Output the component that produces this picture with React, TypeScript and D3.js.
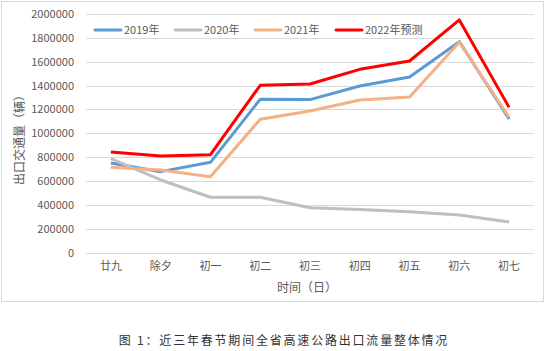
import React, { useRef, useEffect } from "react";
import * as d3 from "d3";

const days = ["廿九", "除夕", "初一", "初二", "初三", "初四", "初五", "初六", "初七"];
const seriesNames = ["2019年", "2020年", "2021年", "2022年预测"];
const colors = ["#5B9BD5", "#BFBFBF", "#F4B183", "#FF0000"];
const v2019 = [750000, 678000, 756000, 1285000, 1282000, 1396000, 1472000, 1768000, 1120000];
const v2020 = [787000, 608000, 463000, 463000, 376000, 361000, 342000, 314000, 256000];
const v2021 = [714000, 692000, 636000, 1117000, 1187000, 1279000, 1304000, 1763000, 1134000];
const v2022 = [843000, 809000, 820000, 1402000, 1413000, 1536000, 1606000, 1950000, 1217000];
const yTicks = [0, 200000, 400000, 600000, 800000, 1000000, 1200000, 1400000, 1600000, 1800000, 2000000];

const font = "'Noto Sans CJK SC', 'Noto Sans', sans-serif";

const Chart = () => {
  const ref = useRef<SVGSVGElement>(null);

  useEffect(() => {
    const svg = d3.select(ref.current);
    svg.selectAll("*").remove();

    const left = 86, right = 534, top = 14, bottom = 252.5;
    const x = d3.scaleBand().domain(days).range([left, right]);
    const y = d3.scaleLinear().domain([0, 2000000]).range([bottom, top]);

    svg.append("rect").attr("width", 550).attr("height", 351).attr("fill", "#fff");
    svg.append("rect")
      .attr("x", 1.5).attr("y", 1.5).attr("width", 542).attr("height", 300)
      .attr("fill", "none").attr("stroke", "#d9d9d9");

    // grid
    svg.append("g").selectAll("line").data(yTicks).enter().append("line")
      .attr("x1", left).attr("x2", right)
      .attr("y1", (d) => Math.round(y(d)) + 0.5).attr("y2", (d) => Math.round(y(d)) + 0.5)
      .attr("stroke", "#d9d9d9").attr("stroke-width", 1);

    const axY = svg.append("g").attr("transform", `translate(${left},0)`)
      .call(d3.axisLeft(y).tickValues(yTicks).tickSize(0).tickPadding(12).tickFormat((d) => String(d)));
    axY.select(".domain").remove();
    axY.selectAll("text").attr("fill", "#595959").style("font-family", font).style("font-size", "11px");

    const axX = svg.append("g").attr("transform", `translate(0,${bottom})`)
      .call(d3.axisBottom(x).tickSize(0).tickPadding(10));
    axX.select(".domain").remove();
    axX.selectAll("text").attr("fill", "#595959").style("font-family", font).style("font-size", "11px");

    const all = [v2019, v2020, v2021, v2022];
    const line = d3.line<number>()
      .x((_, i) => (x(days[i]) as number) + x.bandwidth() / 2)
      .y((d) => y(d));

    all.forEach((vals, i) => {
      svg.append("path").datum(vals)
        .attr("d", line)
        .attr("fill", "none")
        .attr("stroke", colors[i])
        .attr("stroke-width", 3)
        .attr("stroke-linejoin", "round");
    });

    // legend
    const legendX = [95, 175, 255, 336];
    seriesNames.forEach((name, i) => {
      const g = svg.append("g").attr("transform", `translate(${legendX[i]},30)`);
      g.append("line").attr("x1", 0).attr("x2", 26).attr("y1", 0).attr("y2", 0)
        .attr("stroke", colors[i]).attr("stroke-width", 3).attr("stroke-linecap", "round");
      g.append("text").attr("x", 29).attr("y", 4).text(name)
        .attr("fill", "#595959").style("font-family", font).style("font-size", "11px");
    });

    // axis titles
    svg.append("text")
      .attr("transform", `translate(24,137) rotate(-90)`)
      .attr("text-anchor", "middle")
      .attr("fill", "#595959").style("font-family", font).style("font-size", "12px")
      .text("出口交通量（辆）");
    svg.append("text")
      .attr("x", 307).attr("y", 292)
      .attr("text-anchor", "middle")
      .attr("fill", "#595959").style("font-family", font).style("font-size", "12px")
      .text("时间（日）");

    svg.append("text")
      .attr("x", 284).attr("y", 345)
      .attr("text-anchor", "middle")
      .attr("fill", "#333").style("font-family", font).style("font-size", "12px")
      .style("letter-spacing", "1.8px")
      .text("图 1：近三年春节期间全省高速公路出口流量整体情况");
  }, []);

  return <svg ref={ref} width={550} height={351} style={{ display: "block" }} />;
};

export default function App() {
  return (
    <div style={{ position: "absolute", left: 0, top: 0 }}>
      <Chart />
    </div>
  );
}
